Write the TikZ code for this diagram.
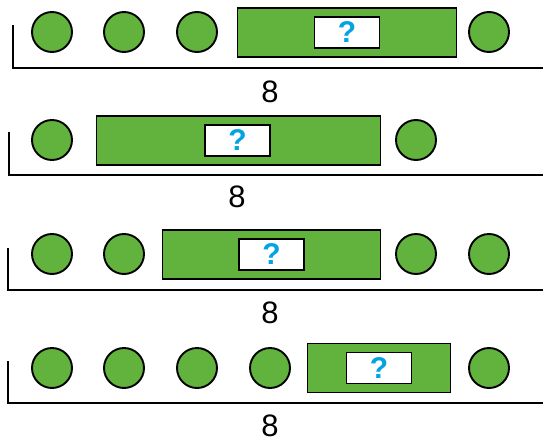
\documentclass[tikz,border=0pt]{standalone}
\usepackage{fontspec}
\setmainfont{Liberation Sans}
\usepackage{tikz}
\usetikzlibrary{positioning}
\definecolor{beadgreen}{RGB}{98,178,62}
\definecolor{askblue}{RGB}{0,163,228}

\begin{document}
\begin{tikzpicture}[
			x=1pt,y=-1pt,
			bead/.style={
				circle,
				draw,
				line width=1.9pt,
				fill=beadgreen,
				minimum size=40pt,
				inner sep=0pt
			},
			bar/.style={
				rectangle,
				draw,
				line width=1.9pt,
				fill=beadgreen,
				minimum height=49pt,
				inner sep=0pt
			},
			ask/.style={
				rectangle,
				draw,
				line width=1.6pt,
				fill=white,
				minimum width=65pt,
				minimum height=31pt,
				inner sep=0pt,
				text=askblue,
				font=\fontsize{30}{30}\selectfont\bfseries
			},
			total/.style={
				font=\fontsize{31}{31}\selectfont,
				inner sep=0pt
			},
			brace/.style={
				line width=1.9pt
			}
			]
			\useasboundingbox (0,0) rectangle (543,444);
			
			% row 1
			\node[bead] (A1) at (52,32) {};
			\node[bead] (A2) at (124,32) {};
			\node[bead] (A3) at (197,32) {};
			\node[bar,minimum width=219pt] (AB) at (347,32.5) {};
			\node[ask] (AQ) at (AB) {?};
			\node[bead] (A4) at (489,32) {};
			\coordinate (AL) at (13,25);
			\coordinate (AC) at (13,68);
			\coordinate (AR) at (543,68);
			\draw[brace] (AL)--(AC)--(AR);
			\node[total] (AT) at (270,92) {8};
			
			% row 2
			\node[bead] (B1) at (52,140) {};
			\node[bar,minimum width=284pt] (BB) at (238.5,140.5) {};
			\node[ask] (BQ) at (237.5,140.5) {?};
			\node[bead] (B2) at (416,140) {};
			\coordinate (BL) at (9,132);
			\coordinate (BC) at (9,175);
			\coordinate (BR) at (543,175);
			\draw[brace] (BL)--(BC)--(BR);
			\node[total] (BT) at (237,197) {8};
			
			% row 3
			\node[bead] (C1) at (52,254) {};
			\node[bead] (C2) at (124,254) {};
			\node[bar,minimum width=218pt] (CB) at (271.5,254.5) {};
			\node[ask] (CQ) at (CB) {?};
			\node[bead] (C3) at (416,254) {};
			\node[bead] (C4) at (489,254) {};
			\coordinate (CL) at (8,248);
			\coordinate (CC) at (8,290);
			\coordinate (CR) at (543,290);
			\draw[brace] (CL)--(CC)--(CR);
			\node[total] (CT) at (270,313) {8};
			
			% row 4
			\node[bead] (D1) at (52,368) {};
			\node[bead] (D2) at (124,368) {};
			\node[bead] (D3) at (197,368) {};
			\node[bead] (D4) at (270,368) {};
			\node[bar,minimum width=143pt] (DB) at (379,368) {};
			\node[ask] (DQ) at (DB) {?};
			\node[bead] (D5) at (489,368) {};
			\coordinate (DL) at (8,361);
			\coordinate (DC) at (8,403);
			\coordinate (DR) at (543,403);
			\draw[brace] (DL)--(DC)--(DR);
			\node[total] (DT) at (270,426) {8};
			
		\end{tikzpicture}
\end{document}
